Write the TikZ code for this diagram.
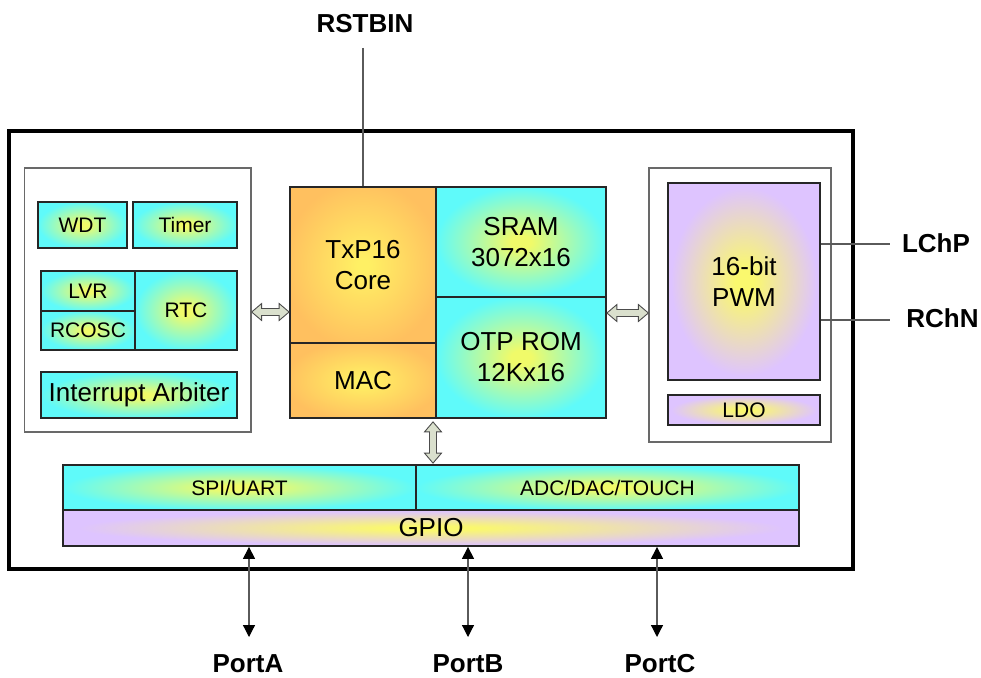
\documentclass[tikz,border=0pt]{standalone}
\usepackage{fontspec}
\setmainfont{Liberation Sans}
\usetikzlibrary{arrows.meta,calc}
\definecolor{cyanC}{RGB}{95,250,250}
\definecolor{yelC}{RGB}{240,250,105}
\definecolor{oraC}{RGB}{255,192,95}
\definecolor{oraY}{RGB}{255,240,100}
\definecolor{purC}{RGB}{222,196,255}
\definecolor{purY}{RGB}{250,248,110}
\definecolor{hollowC}{RGB}{218,224,205}
\definecolor{lineG}{RGB}{90,90,90}
\definecolor{panelG}{RGB}{105,105,105}
\pgfdeclareradialshading{cyanglow}{\pgfpointorigin}{color(0bp)=(yelC); color(3bp)=(yelC); color(25bp)=(cyanC); color(50bp)=(cyanC)}
\pgfdeclareradialshading{oraglow}{\pgfpointorigin}{color(0bp)=(oraY); color(2bp)=(oraY); color(27bp)=(oraC); color(50bp)=(oraC)}
\pgfdeclareradialshading{purglow}{\pgfpointorigin}{color(0bp)=(purY); color(3bp)=(purY); color(24bp)=(purC); color(50bp)=(purC)}
\tikzset{
  blk/.style={draw=black!85, line width=1.8pt, inner sep=0pt, align=center, shade},
  cy/.style={blk, shading=cyanglow},
  orb/.style={blk, shading=oraglow},
  pu/.style={blk, shading=purglow},
  f21/.style={font=\fontsize{21}{25}\selectfont},
  f26/.style={font=\fontsize{26}{31}\selectfont},
  lbl/.style={font=\fontsize{26}{31}\selectfont\bfseries, inner sep=0pt},
  panel/.style={draw=panelG, line width=1.3pt, inner sep=0pt},
  wire/.style={draw=lineG, line width=1.2pt},
  port/.style={wire, {Triangle[length=12pt,width=12pt,color=black]}-{Triangle[length=12pt,width=12pt,color=black]}},
  harrow/.style={draw=black!70, line width=0.9pt, fill=hollowC, line join=miter},
}
\newcommand\hollowH[2]{\draw[harrow] let \p1=(#1), \p2=(#2) in
  (\x1,\y1) -- (\x1+10pt,\y1+8.5pt) -- (\x1+10pt,\y1+3.5pt) -- (\x2-10pt,\y1+3.5pt) -- (\x2-10pt,\y1+8.5pt) -- (\x2,\y1)
  -- (\x2-10pt,\y1-8.5pt) -- (\x2-10pt,\y1-3.5pt) -- (\x1+10pt,\y1-3.5pt) -- (\x1+10pt,\y1-8.5pt) -- cycle;}
\newcommand\hollowV[2]{\draw[harrow] let \p1=(#1), \p2=(#2) in
  (\x1,\y1) -- (\x1+8.5pt,\y1-10pt) -- (\x1+3.5pt,\y1-10pt) -- (\x1+3.5pt,\y2+10pt) -- (\x1+8.5pt,\y2+10pt) -- (\x1,\y2)
  -- (\x1-8.5pt,\y2+10pt) -- (\x1-3.5pt,\y2+10pt) -- (\x1-3.5pt,\y1-10pt) -- (\x1-8.5pt,\y1-10pt) -- cycle;}
\begin{document}
\begin{tikzpicture}[x=1pt,y=-1pt]
\fill[white] (0,0) rectangle (981,677);
\useasboundingbox (0,0) rectangle (981,677);

% outer chip box and panels
\node[draw=black, line width=4pt, minimum width=844pt, minimum height=438pt, inner sep=0pt] (chip) at (431,350) {};
\node[panel, minimum width=226.5pt, minimum height=264pt] (lp) at (137.75,300) {};
\node[panel, minimum width=182pt, minimum height=274pt] (rp) at (740,305) {};

% left panel blocks
\node[cy, f21, minimum width=89pt, minimum height=46pt] (wdt) at (82.5,225) {WDT};
\node[cy, f21, minimum width=104pt, minimum height=46pt] (timer) at (185,225) {Timer};
\node[cy, f21, minimum width=94pt, minimum height=40pt] (lvr) at (88,291) {LVR};
\node[cy, f21, minimum width=94pt, minimum height=39pt] (rcosc) at (88,330.5) {RCOSC};
\node[cy, f21, minimum width=102pt, minimum height=79pt] (rtc) at (186,310.5) {RTC};
\node[cy, f26, minimum width=196pt, minimum height=46pt] (intr) at (139,395) {Interrupt Arbiter};

% center blocks
\node[orb, f26, minimum width=146pt, minimum height=156pt] (core) at (363,265) {TxP16\\Core};
\node[orb, f26, minimum width=146pt, minimum height=75pt] (mac) at (363,380.5) {MAC};
\node[cy, f26, minimum width=170pt, minimum height=110pt] (sram) at (521,242) {SRAM\\3072x16};
\node[cy, f26, minimum width=170pt, minimum height=121pt] (otp) at (521,357.5) {OTP ROM\\12Kx16};

% right panel blocks
\node[pu, f26, minimum width=152pt, minimum height=197pt] (pwm) at (744,281.5) {16-bit\\PWM};
\node[pu, f21, minimum width=152pt, minimum height=30pt] (ldo) at (744,410) {LDO};

% bottom bars
\node[cy, f21, minimum width=353pt, minimum height=45pt] (spi) at (239.5,487.5) {SPI/UART};
\node[cy, f21, minimum width=383pt, minimum height=45pt] (adc) at (607.5,487.5) {ADC/DAC/TOUCH};
\node[pu, f26, minimum width=736pt, minimum height=36pt] (gpio) at (431,528) {GPIO};

% external labels
\node[lbl] (rstbin) at (365,23.5) {RSTBIN};
\node[lbl] (lchp) at (936,243.5) {LChP};
\node[lbl] (rchn) at (942.5,318.5) {RChN};
\node[lbl] (porta) at (248,664) {PortA};
\node[lbl] (portb) at (468,664) {PortB};
\node[lbl] (portc) at (660,664) {PortC};

% helper coordinates
\coordinate (rs) at (363,48);
\coordinate (lc) at (890,244);
\coordinate (rc) at (890,320);
\coordinate (yL) at (0,312);
\coordinate (yR) at (0,313);
\coordinate (xV) at (433,0);
\coordinate (pAe) at (249,637);
\coordinate (pBe) at (468,637);
\coordinate (pCe) at (657,637);
\coordinate (ha1) at (lp.east |- yL);
\coordinate (ha2) at (core.west |- yL);
\coordinate (hb1) at (otp.east |- yR);
\coordinate (hb2) at (rp.west |- yR);
\coordinate (hv1) at ($(otp.south -| xV)+(0,3)$);
\coordinate (hv2) at ($(spi.north -| xV)+(0,-1)$);

% wires
\draw[wire] (rs) -- (core.north);
\draw[wire] (pwm.east |- lc) -- (lc);
\draw[wire] (pwm.east |- rc) -- (rc);
\draw[port] (gpio.south -| pAe) -- (pAe);
\draw[port] (gpio.south -| pBe) -- (pBe);
\draw[port] (gpio.south -| pCe) -- (pCe);

% hollow bus arrows
\hollowH{ha1}{ha2}
\hollowH{hb1}{hb2}
\hollowV{hv1}{hv2}
\end{tikzpicture}
\end{document}
